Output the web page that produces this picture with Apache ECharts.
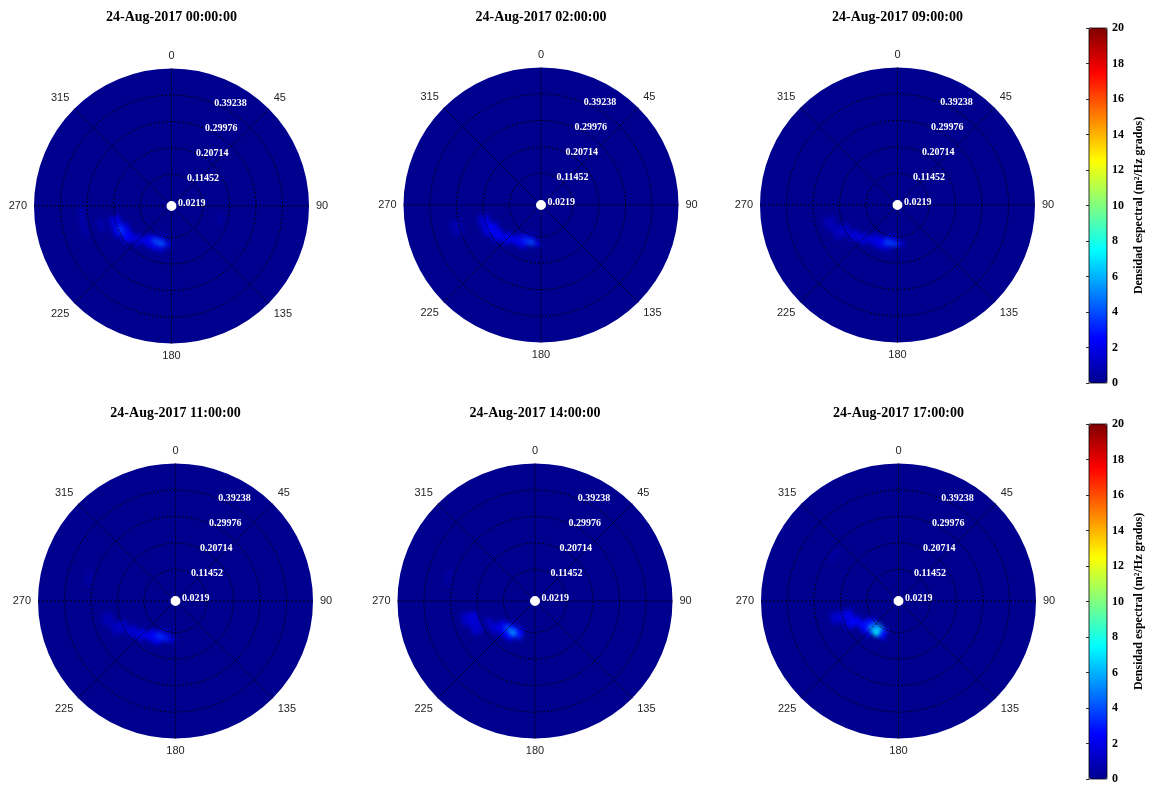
<!DOCTYPE html>
<html>
<head>
<meta charset="utf-8">
<title>Espectros direccionales</title>
<script src="https://cdn.jsdelivr.net/npm/echarts@6/dist/echarts.min.js"></script>
<style>
  html, body { margin: 0; padding: 0; background: #fff; }
  #chart { width: 1151px; height: 785px; }
</style>
</head>
<body>
<div id="chart"></div>
<script>
// ---- Data -------------------------------------------------------------
const titles = [
  '24-Aug-2017 00:00:00', '24-Aug-2017 02:00:00', '24-Aug-2017 09:00:00',
  '24-Aug-2017 11:00:00', '24-Aug-2017 14:00:00', '24-Aug-2017 17:00:00'
];
const directionTicks = [0, 45, 90, 135, 180, 225, 270, 315];
const ringLabels = ['0.0219', '0.11452', '0.20714', '0.29976', '0.39238'];
const colorbarTicks = [0, 2, 4, 6, 8, 10, 12, 14, 16, 18, 20];

// Spectral cells: [frequency (Hz), direction (deg), density (m^2/Hz grados)]
const spec0000 = [
  [0.12, 195, 1.5], [0.12, 205, 1.5],
  [0.14, 185, 1.8], [0.14, 195, 4.2], [0.14, 205, 3.8], [0.14, 215, 2.2],
  [0.16, 195, 1.6], [0.16, 205, 2.0], [0.16, 215, 2.0], [0.16, 225, 1.6],
  [0.18, 225, 1.6], [0.18, 235, 2.2], [0.18, 245, 2.0],
  [0.20, 235, 2.6], [0.20, 245, 3.4], [0.20, 255, 2.2],
  [0.22, 245, 1.6], [0.22, 255, 1.4],
  [0.26, 255, 0.8],
  [0.32, 255, 0.6], [0.32, 265, 0.6],
  [0.18, 105, 0.5]
];
const spec0200 = [
  [0.12, 195, 1.4], [0.12, 205, 1.4],
  [0.14, 185, 1.8], [0.14, 195, 4.0], [0.14, 205, 3.2], [0.14, 215, 1.8],
  [0.16, 205, 1.8], [0.16, 215, 2.2], [0.16, 225, 2.2],
  [0.18, 225, 2.0], [0.18, 235, 2.4], [0.18, 245, 1.8],
  [0.20, 235, 2.0], [0.20, 245, 2.6], [0.20, 255, 1.8],
  [0.22, 245, 1.4], [0.22, 255, 1.4],
  [0.30, 255, 0.7], [0.32, 255, 0.7]
];
const spec0900 = [
  [0.12, 185, 1.3], [0.12, 195, 1.5],
  [0.14, 175, 1.5], [0.14, 185, 3.6], [0.14, 195, 3.8], [0.14, 205, 2.4], [0.14, 215, 1.6],
  [0.16, 195, 1.6], [0.16, 205, 1.8], [0.16, 215, 1.8], [0.16, 225, 1.6],
  [0.18, 225, 1.8], [0.18, 235, 1.6],
  [0.20, 235, 1.4], [0.20, 245, 1.3],
  [0.22, 245, 1.2],
  [0.24, 245, 1.0], [0.24, 255, 0.9],
  [0.26, 255, 0.8]
];
const spec1100 = [
  [0.12, 195, 1.3], [0.12, 205, 1.4],
  [0.14, 185, 1.6], [0.14, 195, 3.0], [0.14, 205, 3.4], [0.14, 215, 2.4],
  [0.16, 205, 2.2], [0.16, 215, 2.4], [0.16, 225, 2.0],
  [0.18, 225, 1.8], [0.18, 235, 1.6],
  [0.20, 235, 1.4], [0.20, 245, 1.3],
  [0.22, 245, 1.2],
  [0.24, 245, 1.0], [0.24, 255, 0.9],
  [0.26, 255, 0.8],
  [0.32, 285, 0.5]
];
const spec1400 = [
  [0.12, 205, 2.4], [0.12, 215, 3.0], [0.12, 225, 2.0],
  [0.14, 205, 3.0], [0.14, 215, 5.6], [0.14, 225, 4.2], [0.14, 235, 2.0],
  [0.16, 215, 2.4], [0.16, 225, 2.4], [0.16, 235, 1.8],
  [0.18, 235, 1.4], [0.18, 245, 1.4],
  [0.22, 245, 1.4], [0.22, 255, 1.6],
  [0.24, 245, 1.4], [0.24, 255, 1.6],
  [0.26, 255, 1.2],
  [0.32, 285, 0.5]
];
const spec1700 = [
  [0.12, 205, 3.0], [0.12, 215, 6.0], [0.12, 225, 4.6], [0.12, 235, 2.4],
  [0.14, 205, 2.6], [0.14, 215, 7.4], [0.14, 225, 5.4], [0.14, 235, 2.8],
  [0.16, 225, 2.2], [0.16, 235, 2.6], [0.16, 245, 2.2],
  [0.18, 245, 2.6], [0.18, 255, 2.0],
  [0.20, 245, 1.8], [0.20, 255, 1.8],
  [0.22, 255, 1.5],
  [0.24, 255, 1.3],
  [0.28, 305, 0.5]
];
const spectra = [spec0000, spec0200, spec0900, spec1100, spec1400, spec1700];

// ---- Layout and style -------------------------------------------------
const panelCenters = [[171.5, 206], [541, 205], [897.5, 205], [175.5, 601], [535, 601], [898.5, 601]];
const titleTops = [10, 10, 10, 406, 406, 406];
const HOLE = 5, OUTER = 137.5;            // pixel radii of the inner hole and the disc
const FREQ_MIN = 0.0219, FREQ_STEP = 0.09262, FREQ_MAX = 0.0219 + 5 * 0.09262;
const CELL_DF = 0.02, CELL_DD = 10;      // cell size in Hz and degrees
const DISC = '#00008F';
const JET = ['#00008F', '#0000FF', '#0080FF', '#00FFFF', '#80FF80', '#FFFF00', '#FF8000', '#FF0000', '#800000'];
const SERIF = 'Liberation Serif, Times New Roman, serif';
const SANS = 'Liberation Sans, Arial, sans-serif';
const GRID_LINE = { color: '#000', width: 0.9, type: [2, 2] };

function renderCell(params, api) {
  const cs = params.coordSys;
  const f = api.value(0), d = api.value(1);
  const pIn = api.coord([f - CELL_DF / 2, d]);
  const pOut = api.coord([f + CELL_DF / 2, d]);
  const pA = api.coord([f, d - CELL_DD / 2]);
  const pB = api.coord([f, d + CELL_DD / 2]);
  const r0 = Math.hypot(pIn[0] - cs.cx, pIn[1] - cs.cy);
  const r = Math.hypot(pOut[0] - cs.cx, pOut[1] - cs.cy);
  let a0 = Math.atan2(pA[1] - cs.cy, pA[0] - cs.cx);
  let a1 = Math.atan2(pB[1] - cs.cy, pB[0] - cs.cx);
  if (a1 < a0) a1 += Math.PI * 2;
  return {
    type: 'sector',
    shape: { cx: cs.cx, cy: cs.cy, r0: r0, r: r, startAngle: a0, endAngle: a1, clockwise: true },
    style: { fill: api.visual('color') }
  };
}

const polar = [], angleAxis = [], radiusAxis = [], series = [], title = [];

spectra.forEach((spec, i) => {
  const center = panelCenters[i];
  const radius = [HOLE, OUTER];
  const base = i * 3;

  // filled disc with direction labels
  polar.push({ center: center, radius: radius });
  angleAxis.push({
    polarIndex: base, type: 'value', min: 0, max: 360, interval: 45,
    startAngle: 90, clockwise: true, zlevel: 0,
    axisLine: { show: false }, axisTick: { show: false }, splitLine: { show: false },
    splitArea: { show: true, areaStyle: { color: [DISC] } },
    axisLabel: {
      margin: 7, color: '#262626', fontFamily: SANS, fontSize: 11,
      formatter: v => (directionTicks.indexOf(v) >= 0 ? String(v) : '')
    }
  });
  radiusAxis.push({ polarIndex: base, type: 'value', min: FREQ_MIN, max: FREQ_MAX, show: false });

  // dotted rings and spokes drawn above the spectrum
  polar.push({ center: center, radius: radius });
  angleAxis.push({
    polarIndex: base + 1, type: 'value', min: 0, max: 360, interval: 45,
    startAngle: 90, clockwise: true, zlevel: 2,
    axisLine: { show: false }, axisTick: { show: false }, axisLabel: { show: false },
    splitLine: { show: true, lineStyle: GRID_LINE }
  });
  radiusAxis.push({
    polarIndex: base + 1, type: 'value', min: FREQ_MIN, max: FREQ_MAX, interval: FREQ_STEP, zlevel: 2,
    axisLine: { show: false }, axisTick: { show: false }, axisLabel: { show: false },
    splitLine: {
      show: true,
      lineStyle: Object.assign({}, GRID_LINE, {
        color: ['rgba(0,0,0,0)', '#000', '#000', '#000', '#000', 'rgba(0,0,0,0)']
      })
    }
  });

  // frequency labels along a radial tilted 20 degrees east of north
  polar.push({ center: center, radius: radius });
  angleAxis.push({ polarIndex: base + 2, type: 'value', min: 0, max: 360, startAngle: 70, show: false });
  radiusAxis.push({
    polarIndex: base + 2, type: 'value', min: FREQ_MIN, max: FREQ_MAX, interval: FREQ_STEP, zlevel: 2,
    axisLine: { show: false }, axisTick: { show: false }, splitLine: { show: false },
    axisLabel: {
      show: true, margin: -5, align: 'left', verticalAlign: 'middle',
      color: '#fff', fontFamily: SERIF, fontWeight: 'bold', fontSize: 10,
      formatter: (v, idx) => ringLabels[idx] || ''
    }
  });

  series.push({
    type: 'custom', coordinateSystem: 'polar', polarIndex: base, zlevel: 1,
    dimensions: ['freq', 'dir', 'dens'],
    encode: { radius: 0, angle: 1 },
    data: spec, renderItem: renderCell, silent: true
  });

  title.push({
    text: titles[i], left: center[0], top: titleTops[i], textAlign: 'center', padding: 0,
    textStyle: { fontFamily: SERIF, fontWeight: 'bold', fontSize: 14, color: '#000' }
  });
});

// colour bars: visualMap strip plus a value axis for ticks and caption
const barTops = [28, 424];
const BAR_LEFT = 1089, BAR_W = 18, BAR_H = 355;
const visualMap = barTops.map((top, k) => ({
  type: 'continuous', min: 0, max: 20, dimension: 2,
  seriesIndex: [k * 3, k * 3 + 1, k * 3 + 2],
  inRange: { color: JET },
  left: BAR_LEFT, top: top, itemWidth: BAR_W, itemHeight: BAR_H,
  calculable: false, padding: 0, hoverLink: false, text: null
}));
const grid = barTops.map(top => ({
  left: BAR_LEFT, top: top, width: BAR_W, height: BAR_H,
  show: true, borderColor: '#000', borderWidth: 0.8, backgroundColor: 'rgba(0,0,0,0)', z: 5
}));
const xAxis = barTops.map((t, k) => ({ gridIndex: k, type: 'value', show: false }));
const yAxis = barTops.map((t, k) => ({
  gridIndex: k, type: 'value', position: 'right', z: 6,
  min: colorbarTicks[0], max: colorbarTicks[colorbarTicks.length - 1], interval: 2,
  axisLine: { show: false },
  axisTick: { show: true, inside: true, length: 3, lineStyle: { color: '#000', width: 0.8 } },
  splitLine: { show: false },
  axisLabel: { margin: 5, color: '#000', fontFamily: SERIF, fontWeight: 'bold', fontSize: 12 },
  name: 'Densidad espectral (m\u00B2/Hz grados)', nameLocation: 'middle', nameRotate: 90, nameGap: 26,
  nameTextStyle: { fontFamily: SERIF, fontWeight: 'bold', fontSize: 12, color: '#000' }
}));

const chart = echarts.init(document.getElementById('chart'), null, { renderer: 'canvas' });
chart.setOption({
  animation: false,
  backgroundColor: '#fff',
  title: title,
  polar: polar,
  angleAxis: angleAxis,
  radiusAxis: radiusAxis,
  grid: grid,
  xAxis: xAxis,
  yAxis: yAxis,
  visualMap: visualMap,
  series: series
});

// soften the spectral cells (interpolated shading look)
const cellLayer = document.querySelector('[data-zr-dom-id="zr_1"]');
if (cellLayer) cellLayer.style.filter = 'blur(2px)';
</script>
</body>
</html>
